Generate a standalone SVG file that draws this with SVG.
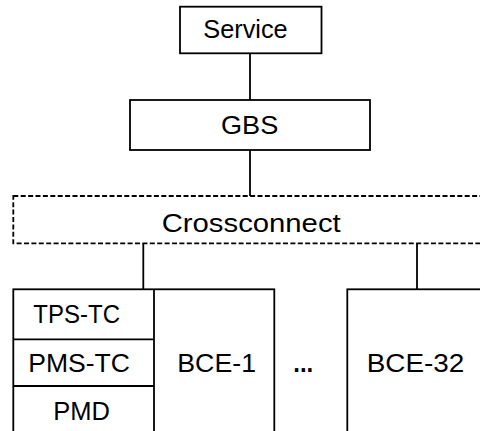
<svg xmlns="http://www.w3.org/2000/svg" width="480" height="431" viewBox="0 0 480 431">
<style>
.box{fill:#fff;stroke:#000;stroke-width:1.8}
.dash{fill:none;stroke:#000;stroke-width:1.8;stroke-dasharray:5 2.4}
.ln{stroke:#000;stroke-width:1.8;fill:none}
text{font-family:"Liberation Sans",Arial,sans-serif;font-size:25.5px;fill:#000}
</style>
<rect width="480" height="431" fill="#fff"/>
<g id="connectors">
<line class="ln" x1="250" y1="53.3" x2="250" y2="100"/>
<line class="ln" x1="250" y1="150" x2="250" y2="196"/>
<line class="ln" x1="143.3" y1="243.3" x2="143.3" y2="289.3"/>
<line class="ln" x1="417" y1="243.3" x2="417" y2="289.3"/>
</g>
<g id="service">
<rect class="box" x="180" y="6.7" width="141.5" height="46.6"/>
<text x="203.3" y="38.3" textLength="84.4" lengthAdjust="spacingAndGlyphs">Service</text>
</g>
<g id="gbs">
<rect class="box" x="130" y="100" width="240" height="50"/>
<text x="221" y="134.3" textLength="57.3" lengthAdjust="spacingAndGlyphs">GBS</text>
</g>
<g id="crossconnect">
<rect class="dash" x="13.3" y="196" width="480" height="47.3"/>
<text x="161.7" y="231.7" textLength="179" lengthAdjust="spacingAndGlyphs">Crossconnect</text>
</g>
<g id="bce1">
<rect class="box" x="13.3" y="289.3" width="261" height="160"/>
<line class="ln" x1="154" y1="289.3" x2="154" y2="431"/>
<line class="ln" x1="13.3" y1="339.3" x2="154" y2="339.3"/>
<line class="ln" x1="13.3" y1="386" x2="154" y2="386"/>
<text x="33.3" y="323.3" textLength="86.7" lengthAdjust="spacingAndGlyphs">TPS-TC</text>
<text x="28.3" y="371.5" textLength="101.7" lengthAdjust="spacingAndGlyphs">PMS-TC</text>
<text x="53.3" y="419.7" textLength="56.7" lengthAdjust="spacingAndGlyphs">PMD</text>
<text x="177.3" y="371.5" textLength="78.7" lengthAdjust="spacingAndGlyphs">BCE-1</text>
</g>
<g id="ellipsis">
<text x="293.3" y="371.5" font-weight="bold" textLength="20" lengthAdjust="spacingAndGlyphs">...</text>
</g>
<g id="bce32">
<rect class="box" x="347.3" y="289.3" width="160" height="160"/>
<text x="366.7" y="371.7" textLength="97.7" lengthAdjust="spacingAndGlyphs">BCE-32</text>
</g>
</svg>
